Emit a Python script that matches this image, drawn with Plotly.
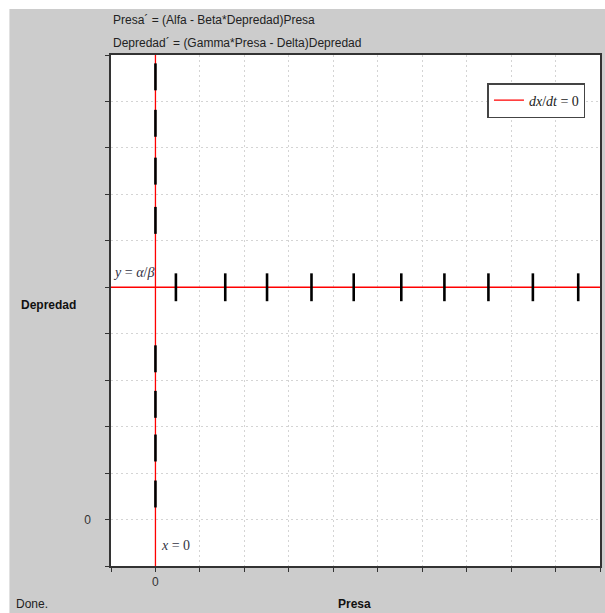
import plotly.graph_objects as go

# ---- data ----
x_range = [-1, 10]
y_range = [-1, 10]
tick_vals = list(range(-1, 11))
tick_text = ["" if v != 0 else "0" for v in tick_vals]

alpha_over_beta = 5.0          # y = alpha/beta nullcline
x_nullcline = 0.0              # x = 0 nullcline

# direction-field segments on x = 0 (vertical), centres in y
seg_x0_y = [0.55, 1.54, 2.48, 3.46, 6.44, 7.5, 8.53, 9.53]
seg_x0_half = 0.29
# direction-field segments on y = alpha/beta (vertical), centres in x
seg_y5_x = [0.46, 1.57, 2.51, 3.51, 4.46, 5.53, 6.50, 7.49, 8.49, 9.51]
seg_y5_half = 0.30

title1 = "Presa\u00b4 = (Alfa - Beta*Depredad)Presa"
title2 = "Depredad\u00b4 = (Gamma*Presa - Delta)Depredad"

# ---- build traces ----
nx, ny = [], []
nx += [x_nullcline, x_nullcline, None]
ny += [y_range[0], y_range[1], None]
nx += [x_range[0], x_range[1]]
ny += [alpha_over_beta, alpha_over_beta]

sx, sy = [], []
for yc in seg_x0_y:
    sx += [x_nullcline, x_nullcline, None]
    sy += [yc - seg_x0_half, yc + seg_x0_half, None]
for xc in seg_y5_x:
    sx += [xc, xc, None]
    sy += [alpha_over_beta - seg_y5_half, alpha_over_beta + seg_y5_half, None]

fig = go.Figure()
fig.add_trace(go.Scatter(x=nx, y=ny, mode="lines",
                         line=dict(color="#ff0000", width=1.3),
                         name="<i>dx</i>/<i>dt</i> = 0", showlegend=True))
fig.add_trace(go.Scatter(x=sx, y=sy, mode="lines",
                         line=dict(color="#000000", width=2.6),
                         showlegend=False, hoverinfo="skip"))

sans = "Liberation Sans, Arial, sans-serif"
serif = "Liberation Serif, Times New Roman, serif"

axis_common = dict(
    tickvals=tick_vals, ticktext=tick_text,
    showgrid=True, gridcolor="#d4d4d4", griddash="2px,3px", gridwidth=1,
    zeroline=False, showline=True, linecolor="#333333", linewidth=1.5,
    mirror=True, ticks="outside", ticklen=4, tickcolor="#333333",
    tickfont=dict(family=sans, size=12, color="#333333"),
)

fig.update_xaxes(range=x_range, **axis_common)
fig.update_yaxes(range=y_range, ticklabelstandoff=12, **axis_common)

W, H = 605, 613
L, R, T, B = 111, 3, 55, 47
pw, ph = W - L - R, H - T - B

def px(xp):
    return (xp - L) / pw

def py(yp):
    return (H - B - yp) / ph

annotations = [
    dict(xref="paper", yref="paper", x=px(111), y=py(20), xanchor="left", yanchor="middle",
         text=title1, showarrow=False, font=dict(family=sans, size=12, color="#222222")),
    dict(xref="paper", yref="paper", x=px(111), y=py(43), xanchor="left", yanchor="middle",
         text=title2, showarrow=False, font=dict(family=sans, size=12, color="#222222")),
    dict(xref="paper", yref="paper", x=px(48), y=py(305), xanchor="center", yanchor="middle",
         text="<b>Depredad</b>", showarrow=False, font=dict(family=sans, size=12, color="#111111")),
    dict(xref="paper", yref="paper", x=px(355), y=py(604), xanchor="center", yanchor="middle",
         text="<b>Presa</b>", showarrow=False, font=dict(family=sans, size=12, color="#111111")),
    dict(xref="paper", yref="paper", x=px(14), y=py(604), xanchor="left", yanchor="middle",
         text="Done.", showarrow=False, font=dict(family=sans, size=12, color="#222222")),
    dict(xref="x", yref="y", x=-1.0, y=5.32, xanchor="left", yanchor="middle",
         text="<i>y</i> = <i>\u03b1</i>/<i>\u03b2</i>", showarrow=False,
         font=dict(family=serif, size=14, color="#333344")),
    dict(xref="x", yref="y", x=0.08, y=-0.56, xanchor="left", yanchor="middle",
         text="<i>x</i> = 0", showarrow=False,
         font=dict(family=serif, size=14, color="#333344")),
]

shapes = [
    dict(type="rect", xref="paper", yref="paper", x0=-1, x1=2, y0=py(9), y1=2,
         fillcolor="white", line=dict(width=0), layer="below"),
    dict(type="rect", xref="paper", yref="paper", x0=-1, x1=px(9), y0=-1, y1=2,
         fillcolor="white", line=dict(width=0), layer="below"),
]

fig.update_layout(
    width=W, height=H,
    margin=dict(l=L, r=R, t=T, b=B, pad=0),
    paper_bgcolor="#cccccc", plot_bgcolor="white",
    showlegend=True,
    legend=dict(x=px(489), y=py(83), xanchor="left", yanchor="top",
                bgcolor="white", bordercolor="#444444", borderwidth=1.5,
                font=dict(family=serif, size=14, color="#222222"),
                itemwidth=30, tracegroupgap=0),
    annotations=annotations, shapes=shapes,
)

fig.write_html("out.html", config={"displayModeBar": False},
               post_script="document.body.style.margin='0';document.body.style.overflow='hidden';")
